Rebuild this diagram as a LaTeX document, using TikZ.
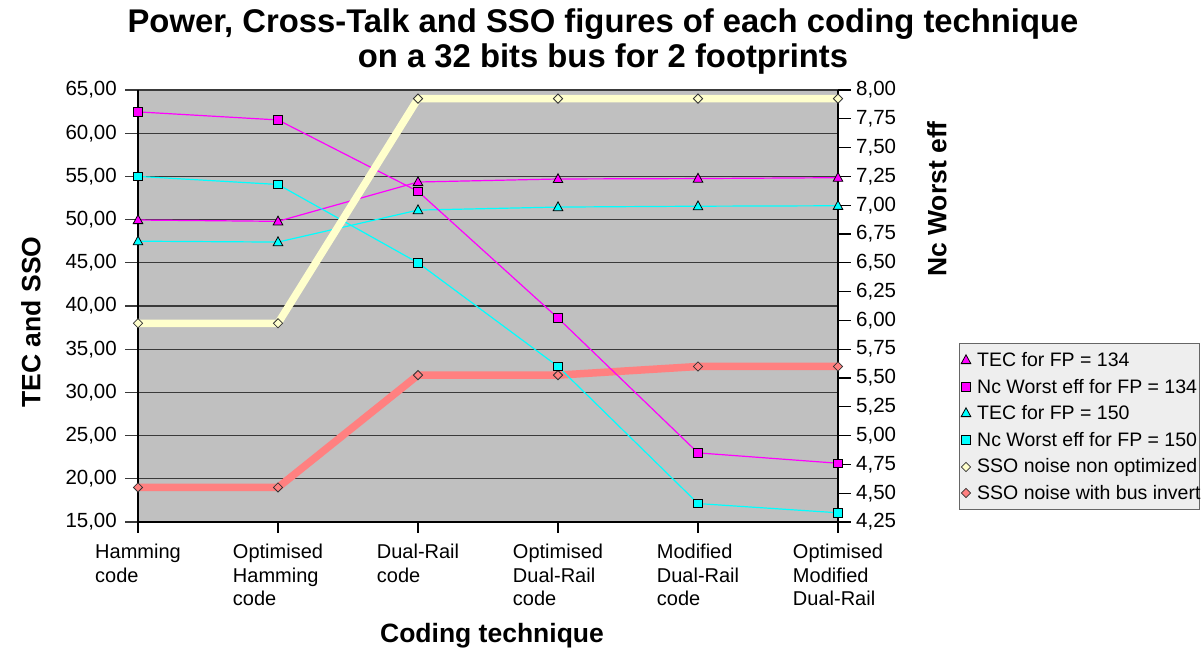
\documentclass[tikz,border=0pt]{standalone}
\usepackage{fontspec}
\setmainfont{Liberation Sans}
\definecolor{plotbg}{HTML}{C0C0C0}
\definecolor{ssoA}{HTML}{FFFFCC}
\definecolor{ssoB}{HTML}{FF8080}
\definecolor{mag}{HTML}{FF00FF}
\definecolor{cya}{HTML}{00FFFF}
\definecolor{legbg}{HTML}{EEEEEE}
\definecolor{gridc}{HTML}{3A3A3A}
\tikzset{
  ticklab/.style={font=\fontsize{20.5}{20}\selectfont, inner sep=0pt},
  catlab/.style={font=\fontsize{20}{23.5}\selectfont, inner sep=0pt, align=left, anchor=north},
  axtitle/.style={font=\fontsize{26.5}{26}\selectfont\bfseries, inner sep=0pt},
  legtext/.style={font=\fontsize{19.5}{20}\selectfont, inner sep=0pt, anchor=west},
  gridline/.style={draw=gridc, line width=1.3pt},
  axisline/.style={draw=black, line width=1.2pt},
  thin series/.style={line width=1.2pt, line join=round},
  thick series/.style={line width=7.5pt, line join=round},
  pics/tri/.style={code={\draw[fill=#1, line width=0.8pt] (-4.8,3.6) -- (4.8,3.6) -- (0,-5.2) -- cycle;}},
  pics/sqr/.style={code={\draw[fill=#1, line width=0.8pt] (-4.3,-4.3) rectangle (4.3,4.3);}},
  pics/dia/.style={code={\draw[draw=black!80, fill=#1, line width=0.8pt] (-4.6,0) -- (0,-4.6) -- (4.6,0) -- (0,4.6) -- cycle;}},
}
\begin{document}
\begin{tikzpicture}[x=1pt, y=-1pt,
  declare function={yl(\v)=90+(65-\v)*8.64; yr(\v)=90+(8-\v)*115.2; cx(\i)=138+140*\i;}]
\useasboundingbox (0,0) rectangle (1204,652);

% title
\node[font=\fontsize{32.8}{35}\selectfont\bfseries, align=center, inner sep=0pt] (title) at (603,42)
  {Power, Cross-Talk and SSO figures of each coding technique\\on a 32 bits bus for 2 footprints};

% plot area and grid
\fill[plotbg] (138,90) rectangle (838,522);
\foreach \v in {15,20,...,65} {
  \draw[gridline] (125,{yl(\v)}) -- (838,{yl(\v)});
  \node[ticklab, anchor=east] at (117,{yl(\v)}) {\v,00};
}
\draw[axisline] (138,90) -- (138,533);
\draw[axisline] (838,90) -- (838,533);
\draw[axisline] (138,522) -- (838,522);
\foreach \i in {1,...,4} \draw[axisline] ({cx(\i)},522) -- ({cx(\i)},533);
\foreach \k/\a/\b in {0/4/25,1/4/50,2/4/75,3/5/00,4/5/25,5/5/50,6/5/75,7/6/00,8/6/25,9/6/50,10/6/75,11/7/00,12/7/25,13/7/50,14/7/75,15/8/00} {
  \draw[axisline] (838,{522-28.8*\k}) -- (851,{522-28.8*\k});
  \node[ticklab, anchor=west] at (856,{522-28.8*\k}) {\a,\b};
}

% category labels
\node[catlab] (cat0) at ({cx(0)},544) {Hamming\\code};
\node[catlab] (cat1) at ({cx(1)},544) {Optimised\\Hamming\\code};
\node[catlab] (cat2) at ({cx(2)},544) {Dual-Rail\\code};
\node[catlab] (cat3) at ({cx(3)},544) {Optimised\\Dual-Rail\\code};
\node[catlab] (cat4) at ({cx(4)},544) {Modified\\Dual-Rail\\code};
\node[catlab] (cat5) at ({cx(5)},544) {Optimised\\Modified\\Dual-Rail};

% axis titles
\node[axtitle, rotate=90] (ylab) at (31,322) {TEC and SSO};
\node[axtitle, rotate=90] (y2lab) at (937,199) {Nc Worst eff};
\node[axtitle] (xlab) at (492,636) {Coding technique};

% data points
\foreach \v [count=\i from 0] in {49.95,49.8,54.35,54.7,54.75,54.85}
  \coordinate (tA\i) at ({cx(\i)},{yl(\v)});
\foreach \v [count=\i from 0] in {47.5,47.4,51.1,51.45,51.55,51.6}
  \coordinate (tB\i) at ({cx(\i)},{yl(\v)});
\foreach \v [count=\i from 0] in {7.81,7.74,7.12,6.02,4.85,4.76}
  \coordinate (nA\i) at ({cx(\i)},{yr(\v)});
\foreach \v [count=\i from 0] in {7.25,7.18,6.50,5.60,4.41,4.33}
  \coordinate (nB\i) at ({cx(\i)},{yr(\v)});
\foreach \v [count=\i from 0] in {38,38,64,64,64,64}
  \coordinate (sA\i) at ({cx(\i)},{yl(\v)});
\foreach \v [count=\i from 0] in {19,19,32,32,33,33}
  \coordinate (sB\i) at ({cx(\i)},{yl(\v)});

% series
\draw[mag, thin series] (tA0) -- (tA1) -- (tA2) -- (tA3) -- (tA4) -- (tA5);
\foreach \i in {0,...,5} \pic at (tA\i) {tri=mag};
\draw[cya, thin series] (tB0) -- (tB1) -- (tB2) -- (tB3) -- (tB4) -- (tB5);
\foreach \i in {0,...,5} \pic at (tB\i) {tri=cya};
\draw[ssoB, thick series] (sB0) -- (sB1) -- (sB2) -- (sB3) -- (sB4) -- (sB5);
\foreach \i in {0,...,5} \pic at (sB\i) {dia=ssoB};
\draw[mag, thin series] (nA0) -- (nA1) -- (nA2) -- (nA3) -- (nA4) -- (nA5);
\foreach \i in {0,...,5} \pic at (nA\i) {sqr=mag};
\draw[cya, thin series] (nB0) -- (nB1) -- (nB2) -- (nB3) -- (nB4) -- (nB5);
\foreach \i in {0,...,5} \pic at (nB\i) {sqr=cya};
\draw[ssoA, thick series] (sA0) -- (sA1) -- (sA2) -- (sA3) -- (sA4) -- (sA5);
\foreach \i in {0,...,5} \pic at (sA\i) {dia=ssoA};

% legend
\node[draw=black!60, fill=legbg, line width=1pt, minimum width=240pt, minimum height=166pt, anchor=north west, inner sep=0pt] (legend) at (959,343) {};
\pic at (966,360) {tri=mag};
\node[legtext] (l1) at (977,360) {TEC for FP = 134};
\pic at (966,387) {sqr=mag};
\node[legtext] (l2) at (977,387) {Nc Worst eff for FP = 134};
\pic at (966,413) {tri=cya};
\node[legtext] (l3) at (977,413) {TEC for FP = 150};
\pic at (966,440) {sqr=cya};
\node[legtext] (l4) at (977,440) {Nc Worst eff for FP = 150};
\pic at (966,467) {dia=ssoA};
\node[legtext] (l5) at (977,467) {SSO noise non optimized};
\pic at (966,493) {dia=ssoB};
\node[legtext] (l6) at (977,493) {SSO noise with bus invert};
\end{tikzpicture}
\end{document}
